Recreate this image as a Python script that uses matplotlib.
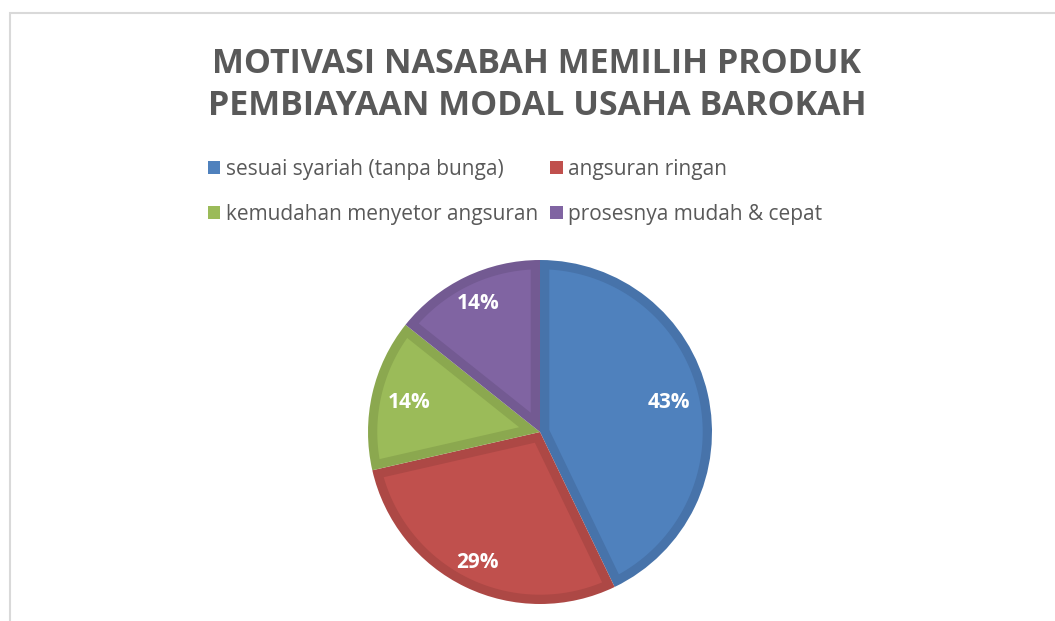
"""Pie chart: motivasi nasabah memilih produk pembiayaan."""

import numpy as np
import matplotlib.pyplot as plt
from matplotlib.patches import Rectangle, Patch, Polygon

labels = ['sesuai syariah (tanpa bunga)', 'angsuran ringan',
          'kemudahan menyetor angsuran', 'prosesnya mudah & cepat']
values = [3, 2, 1, 1]
colors = ['#4F81BD', '#C0504D', '#9BBB59', '#8064A2']
edges = ['#4773AA', '#AD4845', '#8BA84F', '#735A92']
label_dist = [0.77, 0.84, 0.78, 0.83]

W, H = 1055, 621
fig = plt.figure(figsize=(W / 100, H / 100), dpi=100)

# chart area frame (only top/left visible)
fig.patches.append(Rectangle((10 / W, -0.2), 1.2, (H - 13) / H + 0.2, transform=fig.transFigure,
                             facecolor='white', edgecolor='#D9D9D9', linewidth=1.5, zorder=-5))

cx, cy, r = 540, 432, 172
ax = fig.add_axes([(cx - r) / W, (H - cy - r) / H, 2 * r / W, 2 * r / H])
ax.set_zorder(5)
# dark wedges = border colour, lighter inset drawn on top
wedges, texts, autotexts = ax.pie(values, colors=edges, startangle=90, counterclock=False,
                                  autopct='%1.0f%%', pctdistance=0.8, radius=1,
                                  wedgeprops=dict(linewidth=0),
                                  textprops=dict(color='white', fontsize=15, fontweight='bold',
                                                 family='Open Sans', zorder=10))
d = 0.054  # border thickness
for w, fc, at, ld in zip(wedges, colors, autotexts, label_dist):
    t1, t2 = np.radians(w.theta1), np.radians(w.theta2)
    half = (t2 - t1) / 2
    mid = t1 + half
    apex = d / np.sin(half) if half < np.pi / 2 else 0
    rr = 1 - d
    delta = np.arctan2(d, np.sqrt(rr ** 2 - d ** 2))
    ang = np.linspace(t1 + delta, t2 - delta, 100)
    pts = [(apex * np.cos(mid), apex * np.sin(mid))] + list(zip(rr * np.cos(ang), rr * np.sin(ang)))
    ax.add_patch(Polygon(pts, closed=True, facecolor=fc, edgecolor='none'))
    at.set_position((ld * np.cos(mid), ld * np.sin(mid)))
ax.set_xlim(-1, 1)
ax.set_ylim(-1, 1)
ax.set_aspect('equal')
ax.axis('off')

fig.text(537 / W, 1 - 64 / H, 'MOTIVASI NASABAH MEMILIH PRODUK', ha='center', va='center',
         fontsize=24.5, fontweight='bold', color='#595959', family='Open Sans')
fig.text(537 / W, 1 - 106 / H, 'PEMBIAYAAN MODAL USAHA BAROKAH', ha='center', va='center',
         fontsize=24.5, fontweight='bold', color='#595959', family='Open Sans')

handles = [Patch(facecolor=c, edgecolor='none') for c in colors]
order = [0, 2, 1, 3]
fig.legend([handles[i] for i in order], [labels[i] for i in order], loc='center',
           bbox_to_anchor=(515 / W, 1 - 192 / H), ncol=2,
           frameon=False, handlelength=0.6, handleheight=0.6, handletextpad=0.25,
           columnspacing=0.6, labelspacing=1.15,
           prop=dict(family='Open Sans', size=15), labelcolor='#595959')

fig.savefig('out.png', dpi=100)
